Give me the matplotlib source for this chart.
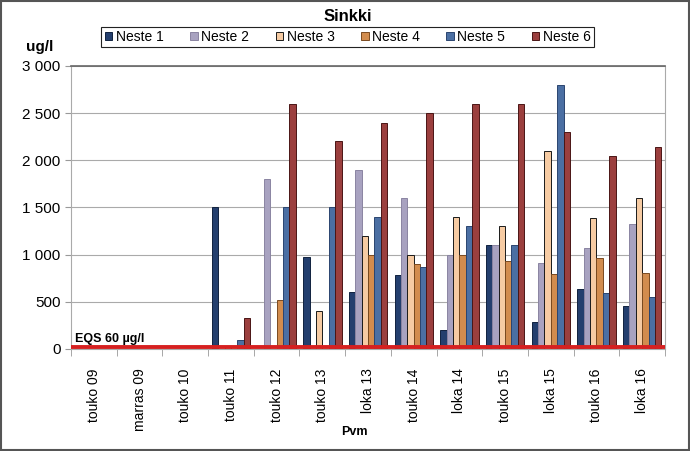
import matplotlib
matplotlib.use("Agg")
import matplotlib.pyplot as plt
import numpy as np
from matplotlib.patches import Rectangle

plt.rcParams['font.family'] = ['Liberation Sans', 'DejaVu Sans']

categories = ["touko 09", "marras 09", "touko 10", "touko 11", "touko 12", "touko 13",
              "loka 13", "touko 14", "loka 14", "touko 15", "loka 15", "touko 16", "loka 16"]
series_names = ["Neste 1", "Neste 2", "Neste 3", "Neste 4", "Neste 5", "Neste 6"]
neste1 = [0, 0, 0, 1500, 0, 980, 605, 780, 200, 1100, 290, 640, 460]
neste2 = [0, 0, 0, 0, 1800, 0, 1900, 1600, 1000, 1100, 910, 1070, 1330]
neste3 = [0, 0, 0, 20, 0, 400, 1200, 1000, 1400, 1300, 2100, 1390, 1600]
neste4 = [0, 0, 0, 0, 520, 0, 1000, 900, 1000, 930, 800, 960, 810]
neste5 = [0, 0, 0, 100, 1500, 1500, 1400, 870, 1300, 1100, 2800, 590, 550]
neste6 = [0, 0, 0, 330, 2600, 2200, 2400, 2500, 2600, 2600, 2300, 2050, 2140]
eqs_level = 60

colors = ["#243F6E", "#A8A2C0", "#F6CBA3", "#D28C4E", "#4B6FA3", "#9B3F3E"]
edges = ["#10223F", "#8A84A2", "#1A1A1A", "#7A4A20", "#2B4570", "#4A1515"]

fig = plt.figure(figsize=(6.9, 4.51), dpi=100)
fig.patch.set_facecolor("white")
fig.patches.append(Rectangle((0.002, 0.003), 0.996, 0.994, transform=fig.transFigure,
                             fill=False, edgecolor="#555555", linewidth=1.5))
ax = fig.add_axes([0.1029, 0.2262, 0.8609, 0.6275])

data = [neste1, neste2, neste3, neste4, neste5, neste6]
x = np.arange(len(categories))
w = 0.14
for i, (vals, c, ec, name) in enumerate(zip(data, colors, edges, series_names)):
    ax.bar(x - 0.42 + w * (i + 0.5), vals, width=w, color=c, edgecolor=ec,
           linewidth=0.7, label=name, zorder=3)

ax.axhline(eqs_level * 0.4, color="#D62020", linewidth=2.8, zorder=4)
ax.text(0.006, 45, "EQS 60 µg/l", fontsize=9, fontweight="bold", ha="left", va="bottom",
        transform=ax.get_yaxis_transform(), zorder=5)

ax.set_xlim(-0.5, len(categories) - 0.5)
ax.set_ylim(0, 3000)
ax.set_yticks(np.arange(0, 3001, 500))
ax.set_yticklabels(["0", "500", "1 000", "1 500", "2 000", "2 500", "3 000"], fontsize=11)
ax.yaxis.grid(True, color="#AAAAAA", linewidth=0.8, zorder=0)
ax.set_axisbelow(True)
ax.set_xticks(x)
ax.set_xticklabels(categories, rotation=90, fontsize=10)
ax.tick_params(axis='x', length=0, pad=14)
ax.set_xticks(np.arange(-0.5, len(categories), 1), minor=True)
ax.tick_params(axis='x', which='minor', length=5, color="#999999")
ax.tick_params(axis='y', length=4, color="#999999")
for s in ["left", "bottom", "right"]:
    ax.spines[s].set_color("#AAAAAA")
ax.spines["top"].set_color("#666666")
ax.spines["top"].set_linewidth(1.2)

fig.text(0.514, 0.042, "Pvm", fontsize=9, fontweight="bold", ha="center", va="center")
fig.text(0.058, 0.895, "ug/l", fontsize=11, fontweight="bold", ha="center", va="center")
fig.text(0.504, 0.963, "Sinkki", fontsize=12, fontweight="bold", ha="center", va="center")

leg = fig.legend(loc="center", bbox_to_anchor=(0.504, 0.918), ncol=6, fontsize=10,
                 frameon=True, fancybox=False, edgecolor="#222222", handlelength=0.55,
                 handleheight=0.55, handletextpad=0.25, columnspacing=1.9,
                 borderpad=0.25, borderaxespad=0, framealpha=1)
leg.get_frame().set_linewidth(0.8)

fig.savefig("out.png", dpi=100)
